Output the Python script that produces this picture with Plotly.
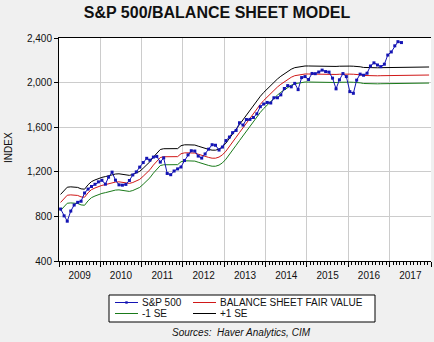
import plotly.graph_objects as go

# ---- data -------------------------------------------------------------
# S&P 500, monthly averages, Jan 2009 - Apr 2017
sp500 = [
    866, 805, 757, 848, 902, 926, 936, 1010, 1045, 1068, 1088, 1110,
    1124, 1089, 1152, 1197, 1125, 1083, 1080, 1087, 1122, 1172, 1199, 1242,
    1283, 1321, 1304, 1332, 1338, 1287, 1325, 1185, 1174, 1207, 1226, 1243,
    1301, 1352, 1389, 1386, 1341, 1323, 1360, 1403, 1443, 1438, 1395, 1422,
    1480, 1512, 1551, 1571, 1640, 1619, 1669, 1670, 1687, 1720, 1784, 1808,
    1822, 1817, 1864, 1864, 1890, 1947, 1973, 1962, 1993, 1937, 2045, 2054,
    2028, 2082, 2080, 2095, 2112, 2099, 2094, 2040, 1944, 2025, 2081, 2054,
    1919, 1904, 2022, 2076, 2066, 2084, 2149, 2177, 2158, 2143, 2165, 2247,
    2275, 2330, 2367, 2359,
]

# Balance sheet fair value, monthly, Jan 2009 - Dec 2017
fair_value = [
    925, 962, 990, 993, 993, 988, 975, 972, 1012, 1040, 1055, 1068,
    1078, 1085, 1094, 1102, 1108, 1110, 1106, 1100, 1096, 1104, 1116, 1132,
    1160, 1190, 1218, 1260, 1296, 1328, 1335, 1335, 1335, 1335, 1336, 1362,
    1370, 1370, 1370, 1368, 1358, 1347, 1338, 1329, 1322, 1322, 1332, 1352,
    1385, 1425, 1468, 1510, 1552, 1595, 1640, 1685, 1725, 1765, 1805, 1840,
    1872, 1902, 1932, 1960, 1985, 2008, 2030, 2048, 2062, 2069, 2074, 2077,
    2077, 2076, 2075, 2074, 2073, 2072, 2072, 2072, 2073, 2075, 2077, 2077,
    2076, 2075, 2074, 2070, 2064, 2062, 2061, 2061, 2061, 2062, 2062, 2063,
    2066, 2068, 2068, 2068, 2068, 2068, 2068, 2068, 2068, 2068, 2068, 2068,
]

# standard error of the model
std_err = 72

y_ticks = [400, 800, 1200, 1600, 2000, 2400]
y_tick_text = ["400", "800", "1,200", "1,600", "2,000", "2,400"]


def month_dates(start_year, n):
    out = []
    for k in range(n):
        y = start_year + k // 12
        m = k % 12 + 1
        out.append(f"{y}-{m:02d}-15")
    return out


sp_dates = month_dates(2009, len(sp500))
fv_dates = month_dates(2009, len(fair_value))
upper = [v + std_err for v in fair_value]
lower = [v - std_err for v in fair_value]

BLUE = "#1414B4"
RED = "#D01818"
GREEN = "#1A7A1A"
BLACK = "#000000"
FONT = "Liberation Sans, Arial, sans-serif"

fig = go.Figure()
fig.add_trace(go.Scatter(x=fv_dates, y=lower, mode="lines", name="-1 SE",
                         line=dict(color=GREEN, width=1)))
fig.add_trace(go.Scatter(x=fv_dates, y=upper, mode="lines", name="+1 SE",
                         line=dict(color=BLACK, width=1)))
fig.add_trace(go.Scatter(x=fv_dates, y=fair_value, mode="lines",
                         name="BALANCE SHEET FAIR VALUE",
                         line=dict(color=RED, width=1)))
fig.add_trace(go.Scatter(x=sp_dates, y=sp500, mode="lines+markers",
                         name="S&P 500",
                         line=dict(color=BLUE, width=1),
                         marker=dict(color=BLUE, size=3, symbol="square")))

# plot-area geometry (pixels) used for the hand-drawn legend block
W, H = 434, 342
PL, PR, PT, PB = 59, 431, 38, 261


def fx(px):
    return (px - PL) / (PR - PL)


def fy(py):
    return (PB - py) / (PB - PT)


shapes = []
annotations = []

# legend frame
shapes.append(dict(type="rect", xref="paper", yref="paper",
                   x0=fx(109), x1=fx(375), y0=fy(295), y1=fy(322),
                   line=dict(color="black", width=1), fillcolor="white"))

legend_rows = [
    [("S&P 500", BLUE, True, 115), ("BALANCE SHEET FAIR VALUE", RED, False, 193)],
    [("-1 SE", GREEN, False, 115), ("+1 SE", BLACK, False, 193)],
]
row_y = [302.5, 313.5]
for r, row in enumerate(legend_rows):
    yy = row_y[r]
    for label, color, marker, x0 in row:
        shapes.append(dict(type="line", xref="paper", yref="paper",
                           x0=fx(x0), x1=fx(x0 + 23), y0=fy(yy), y1=fy(yy),
                           line=dict(color=color, width=1)))
        if marker:
            shapes.append(dict(type="rect", xref="paper", yref="paper",
                               xsizemode="pixel", ysizemode="pixel",
                               xanchor=fx(x0 + 11.5), yanchor=fy(yy),
                               x0=-1.2, x1=1.2, y0=-1.2, y1=1.2,
                               fillcolor=color, line=dict(width=0)))
        annotations.append(dict(xref="paper", yref="paper",
                                x=fx(x0 + 25), y=fy(yy),
                                xanchor="left", yanchor="middle",
                                text=label, showarrow=False,
                                font=dict(family=FONT, size=10, color="#111")))

annotations.append(dict(xref="paper", yref="paper", x=fx(241), y=fy(332.5),
                        xanchor="center", yanchor="middle", showarrow=False,
                        text="<i>Sources:  Haver Analytics, CIM</i>",
                        font=dict(family=FONT, size=10, color="#111")))

annotations.append(dict(xref="paper", yref="paper", x=fx(8), y=fy(148),
                        xanchor="center", yanchor="middle", showarrow=False,
                        textangle=-90, text="INDEX",
                        font=dict(family=FONT, size=10, color="#111")))

fig.update_layout(
    width=W, height=H,
    margin=dict(l=PL, r=W - PR, t=PT, b=H - PB, pad=0),
    paper_bgcolor="#F0F0F0",
    plot_bgcolor="white",
    showlegend=False,
    title=dict(text="<b>S&P 500/BALANCE SHEET MODEL</b>",
               x=fx(245), xanchor="center", y=1 - 12 / H, yanchor="middle",
               font=dict(family=FONT, size=16, color="#111")),
    shapes=shapes,
    annotations=annotations,
)

fig.update_xaxes(
    type="date",
    range=["2009-01-01", "2018-01-01"],
    tick0="2009-01-01", dtick="M12",
    ticklabelmode="period", tickformat="%Y",
    ticks="outside", ticklen=5, tickcolor="black",
    minor=dict(dtick="M1", ticks="outside", ticklen=3, tickcolor="black",
               showgrid=False),
    showgrid=True, gridcolor="#CCCCCC", gridwidth=1,
    showline=True, linecolor="black", linewidth=1, mirror=True,
    zeroline=False,
    tickfont=dict(family=FONT, size=10, color="#111"),
)

fig.update_yaxes(
    range=[400, 2400],
    tickvals=y_ticks, ticktext=y_tick_text,
    ticks="outside", ticklen=4, tickcolor="black",
    showgrid=True, gridcolor="#CCCCCC", gridwidth=1,
    showline=True, linecolor="black", linewidth=1,
    zeroline=False,
    tickfont=dict(family=FONT, size=10, color="#111"),
)

fig.write_html("out.html")
